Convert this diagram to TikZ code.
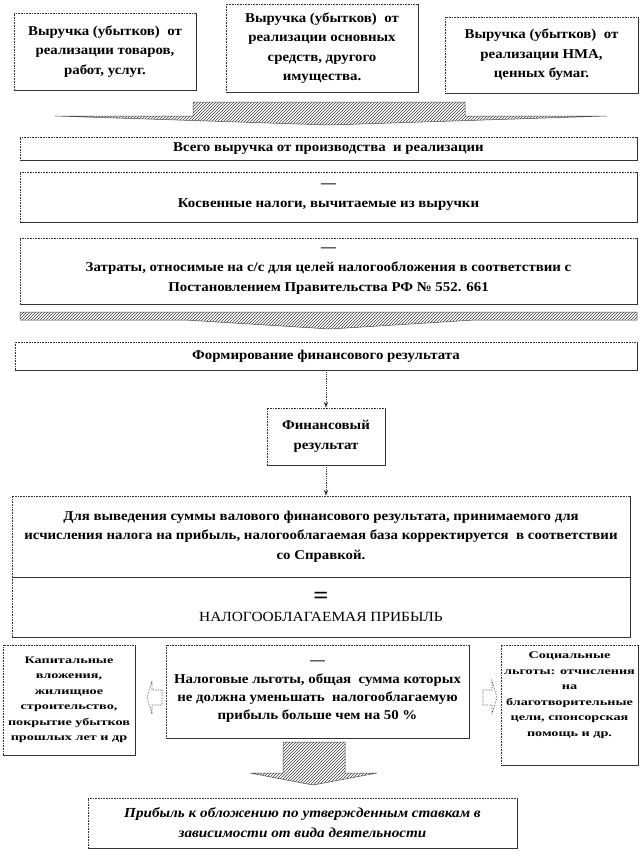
\documentclass[tikz,border=0pt]{standalone}
\usepackage{fontspec}
\setmainfont[FakeStretch=1.1]{Liberation Serif}
\newfontfamily\widefont[FakeStretch=1.42]{Liberation Serif}
\usetikzlibrary{patterns,arrows.meta}
\begin{document}
\begin{tikzpicture}[x=1pt,y=-1pt,
  box/.style={draw=black!80, densely dotted, line width=0.6pt, inner sep=0pt, align=center,
    font=\bfseries\fontsize{13.5}{19.5}\selectfont},
  sidebox/.style={box, font=\widefont\bfseries\fontsize{10}{15.5}\selectfont},
  edgeline/.style={draw=black!80, line width=0.9pt},
  hatch/.style={pattern=north east lines, pattern color=black!75, draw=black!70, line width=0.5pt},
  smallarrow/.style={draw=black!80, densely dotted, line width=0.6pt, fill=white},
  dotarrow/.style={draw=black!80, densely dotted, line width=0.8pt, -{Stealth[length=6pt,width=4.5pt]}},
]
\useasboundingbox[fill=white] (0,0) rectangle (642,852);

% top boxes
\node[box, minimum width=182pt, minimum height=77pt] (b1) at (105,51.5)
  {Выручка (убытков)\ \ от\\реализации товаров,\\работ, услуг.};
\node[box, minimum width=192pt, minimum height=88pt] (b2) at (322,48)
  {Выручка (убытков)\ \ от\\реализации основных\\средств, другого\\имущества.};
\node[box, minimum width=193pt, minimum height=76pt] (b3) at (541.5,55)
  {Выручка (убытков)\ \ от\\реализации НМА,\\ценных бумаг.};

% hatched arrow 1
\path[hatch] (193,102) -- (465,102) -- (465,116) -- (607,116) -- (330,125) -- (55,116) -- (193,116) -- cycle;

% middle rows
\node[box, minimum width=617pt, minimum height=23pt] (total) at (328.5,148.5)
  {Всего выручка от производства\ \ и реализации};
\node[box, minimum width=617pt, minimum height=50pt] (kos) at (328.5,197)
  {---\\[1pt]Косвенные налоги, вычитаемые из выручки};
\node[box, minimum width=617pt, minimum height=66pt] (zat) at (328.5,271)
  {---\\[1pt]Затраты, относимые на с/с для целей налогообложения в соответствии с\\Постановлением Правительства РФ № 552. 661};

% hatched arrow 2
\path[hatch] (20,312) -- (637,312) -- (637,320) -- (475,320) -- (330,329) -- (185,320) -- (20,320) -- cycle;

\node[box, minimum width=622pt, minimum height=28pt] (form) at (326,356)
  {Формирование финансового результата};
\node[box, minimum width=118pt, minimum height=57pt] (fin) at (326,436.5)
  {Финансовый\\результат};
\node[box, minimum width=618pt, minimum height=81pt] (corr) at (321,536.5)
  {Для выведения суммы валового финансового результата, принимаемого для\\исчисления налога на прибыль, налогооблагаемая база корректируется\ \ в соответствии\\со Справкой.};
\node[box, minimum width=618pt, minimum height=60pt] (tax) at (321,607)
  {{\fontsize{24}{20}\selectfont =}\\[-2pt]{\mdseries\fontsize{14}{18}\selectfont НАЛОГООБЛАГАЕМАЯ ПРИБЫЛЬ}};

\draw[dotarrow] (form.south) -- (fin.north);
\draw[dotarrow] (fin.south) -- (fin.south |- corr.north);

% bottom row
\node[sidebox, minimum width=132pt, minimum height=110pt] (left) at (69,700)
  {Капитальные\\вложения,\\жилищное\\строительство,\\покрытие убытков\\прошлых лет и др};
\node[box, minimum width=303pt, minimum height=93pt, font=\bfseries\fontsize{13.5}{18}\selectfont] (mid) at (317.5,691.5)
  {---\\[1pt]Налоговые льготы, общая\ \ сумма которых\\не должна уменьшать\ \ налогооблагаемую\\прибыль больше чем на 50 \%};
\node[sidebox, minimum width=137pt, minimum height=120pt] (right) at (569.5,705)
  {Социальные\\льготы: отчисления\\на\\благотворительные\\цели, спонсорская\\помощь и др.\\[6pt]};

% small side arrows
\path[smallarrow] (162,690) -- (152,690) -- (152,681) -- (147,697.5) -- (152,714) -- (152,705) -- (162,705) -- cycle;
\path[smallarrow] (483,690) -- (492,690) -- (492,681) -- (497,697.5) -- (492,714) -- (492,705) -- (483,705) -- cycle;

% hatched arrow 3
\path[hatch] (283,742) -- (345,742) -- (345,773) -- (377,773) -- (313,785) -- (250,773) -- (283,773) -- cycle;

\node[box, minimum width=429pt, minimum height=50pt, font=\bfseries\itshape\fontsize{13.8}{20}\selectfont] (res) at (302.5,823)
  {Прибыль к обложению по утвержденным ставкам в\\зависимости от вида деятельности};

% solid shadow edges on right and bottom
\foreach \n in {b1,b2,b3,total,kos,zat,form,fin,corr,tax,left,mid,right,res}
  \draw[edgeline] (\n.south west) -- (\n.south east) -- (\n.north east);
\end{tikzpicture}
\end{document}
